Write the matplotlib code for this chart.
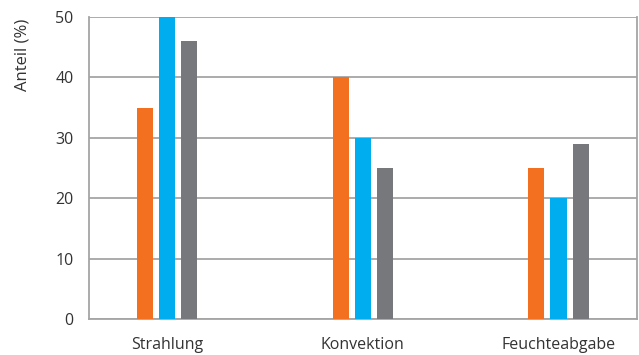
import numpy as np
import matplotlib.pyplot as plt

# Anteile der Wärmeabgabe je Mechanismus
kategorien = ['Strahlung', 'Konvektion', 'Feuchteabgabe']
reihe_orange = [35, 40, 25]
reihe_blau = [50, 30, 20]
reihe_grau = [46, 25, 29]
y_ticks = [0, 10, 20, 30, 40, 50]

plt.rcParams['font.family'] = ['Open Sans', 'DejaVu Sans']

fig = plt.figure(figsize=(6.39, 3.55), dpi=100)
ax = fig.add_axes([0.139, 0.1014, 0.8575, 0.8506])

x = np.arange(len(kategorien))
breite = 0.082
abstand = 0.113

ax.bar(x - abstand, reihe_orange, breite, color='#F37021', zorder=3)
ax.bar(x, reihe_blau, breite, color='#00AEEF', zorder=3)
ax.bar(x + abstand, reihe_grau, breite, color='#77787B', zorder=3)

ax.set_xlim(-0.4, 2.4)
ax.set_ylim(0, 50)
ax.set_yticks(y_ticks)
ax.set_xticks(x)
ax.set_xticklabels(kategorien)

ax.yaxis.grid(True, color='#A5A5A5', linewidth=1.3, zorder=0)
ax.set_axisbelow(True)

for s in ['left', 'bottom', 'right']:
    ax.spines[s].set_color('#A5A5A5')
    ax.spines[s].set_linewidth(1.3)
ax.spines['top'].set_visible(False)

ax.tick_params(axis='both', length=0, labelsize=11.5, colors='#333333')
ax.tick_params(axis='y', pad=11)
ax.tick_params(axis='x', pad=13)

ax.set_ylabel('Anteil (%)', fontsize=12, color='#333333')
ax.yaxis.set_label_coords(-0.106, 0.875)

fig.savefig('out.png', dpi=100)
